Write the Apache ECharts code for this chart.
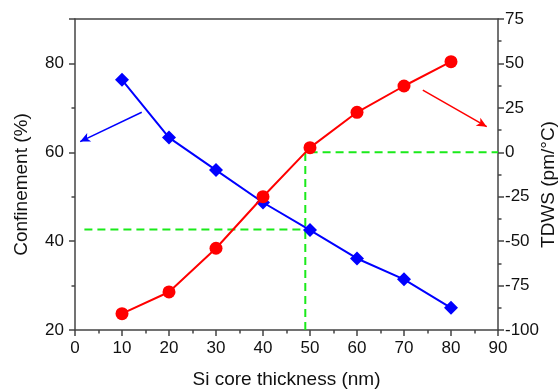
<!DOCTYPE html>
<html><head><meta charset="utf-8">
<script src="https://cdn.jsdelivr.net/npm/echarts@6/dist/echarts.min.js"></script>
<style>html,body{margin:0;padding:0;background:#fff}#c{width:558px;height:390px}</style>
</head><body><div id="c"></div>
<script>
const thickness = [10, 20, 30, 40, 50, 60, 70, 80];
const confinement = [76.3, 63.3, 56.0, 48.7, 42.5, 36.1, 31.4, 25.0];
const tdws = [-90.8, -78.6, -54.0, -25.0, 2.6, 22.5, 37.3, 51.0];
const crossX = 49;
const crossConf = 42.6;
const guideLeftStart = 2;
const blueArrow = [[14.2, 69.0], [1.1, 62.4]];
const redArrow = [[74.0, 35.0], [87.6, 14.4]];

const font = 'Liberation Sans, Arial, sans-serif';
const axisCol = '#444';
const green = '#1aea1a';

const chart = echarts.init(document.getElementById('c'), null, {renderer: 'canvas'});
chart.setOption({
  animation: false,
  grid: {left: 75, right: 60, top: 19, bottom: 60, outerBoundsMode: 'none', containLabel: false},
  xAxis: [{
    type: 'value', min: 0, max: 90, interval: 10, position: 'bottom',
    name: 'Si core thickness (nm)', nameLocation: 'middle', nameGap: 40, nameMoveOverlap: false,
    nameTextStyle: {fontFamily: font, fontSize: 19, color: '#111'},
    axisLine: {onZero: false, lineStyle: {color: axisCol, width: 1.5}},
    axisTick: {show: true, inside: false, length: 6, lineStyle: {color: axisCol, width: 1.5}},
    minorTick: {show: true, splitNumber: 2, length: 3.5, lineStyle: {color: axisCol, width: 1.5}},
    axisLabel: {fontFamily: font, fontSize: 17, color: '#111', margin: 10},
    splitLine: {show: false}
  }, {
    type: 'value', min: 0, max: 90, position: 'top',
    axisLine: {show: true, onZero: false, lineStyle: {color: axisCol, width: 1.5}},
    axisTick: {show: false}, minorTick: {show: false},
    axisLabel: {show: false}, splitLine: {show: false}
  }],
  yAxis: [{
    type: 'value', min: 20, max: 90, interval: 20, position: 'left',
    name: 'Confinement (%)', nameLocation: 'middle', nameGap: 44, nameMoveOverlap: false,
    nameTextStyle: {fontFamily: font, fontSize: 19, color: '#111', padding: [0, 20, 0, 0]},
    axisLine: {show: true, onZero: false, lineStyle: {color: axisCol, width: 1.5}},
    axisTick: {show: true, length: 6, lineStyle: {color: axisCol, width: 1.5}},
    minorTick: {show: true, splitNumber: 2, length: 3.5, lineStyle: {color: axisCol, width: 1.5}},
    axisLabel: {fontFamily: font, fontSize: 17, color: '#111', margin: 11,
      formatter: v => (v === 90 ? '' : String(v))},
    splitLine: {show: false}
  }, {
    type: 'value', min: -100, max: 75, interval: 25, position: 'right',
    name: 'TDWS (pm/\u00B0C)', nameLocation: 'middle', nameGap: 41, nameRotate: 90, nameMoveOverlap: false,
    nameTextStyle: {fontFamily: font, fontSize: 19, color: '#111', padding: [0, 20, 0, 0]},
    axisLine: {show: true, onZero: false, lineStyle: {color: axisCol, width: 1.5}},
    axisTick: {show: true, length: 6, lineStyle: {color: axisCol, width: 1.5}},
    minorTick: {show: true, splitNumber: 2, length: 3.5, lineStyle: {color: axisCol, width: 1.5}},
    axisLabel: {fontFamily: font, fontSize: 17, color: '#111', margin: 7},
    splitLine: {show: false}
  }],
  series: [
    {
      type: 'line', yAxisIndex: 0, silent: true, symbol: 'none',
      data: [[guideLeftStart, crossConf], [crossX, crossConf]],
      lineStyle: {color: green, width: 2, type: [8, 5]}, z: 1
    },
    {
      type: 'line', yAxisIndex: 1, silent: true, symbol: 'none',
      data: [[crossX, -100], [crossX, 0], [90, 0]],
      lineStyle: {color: green, width: 2, type: [8, 5]}, z: 1
    },
    {
      name: 'Confinement', type: 'line', yAxisIndex: 0,
      data: thickness.map((x, i) => [x, confinement[i]]),
      symbol: 'diamond', symbolSize: 14, color: '#0000ff',
      lineStyle: {color: '#0000ff', width: 2},
      itemStyle: {color: '#0000ff'}, z: 3,
      markLine: {
        silent: true, symbol: ['none', 'arrow'], symbolSize: [7, 10],
        label: {show: false},
        lineStyle: {color: '#0000ff', width: 1.5, type: 'solid'},
        data: [[{coord: blueArrow[0]}, {coord: blueArrow[1]}]]
      }
    },
    {
      name: 'TDWS', type: 'line', yAxisIndex: 1,
      data: thickness.map((x, i) => [x, tdws[i]]),
      symbol: 'circle', symbolSize: 13, color: '#ff0000',
      lineStyle: {color: '#ff0000', width: 2},
      itemStyle: {color: '#ff0000'}, z: 4,
      markLine: {
        silent: true, symbol: ['none', 'arrow'], symbolSize: [7, 10],
        label: {show: false},
        lineStyle: {color: '#ff0000', width: 1.5, type: 'solid'},
        data: [[{coord: redArrow[0]}, {coord: redArrow[1]}]]
      }
    }
  ]
});
</script>
</body></html>
